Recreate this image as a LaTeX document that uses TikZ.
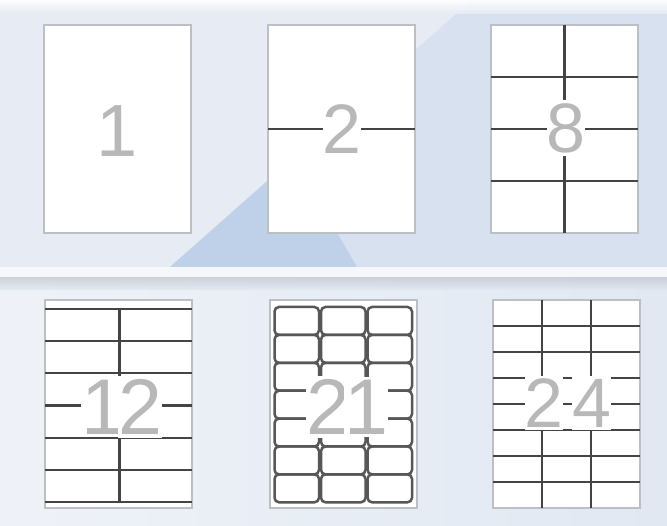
\documentclass[tikz,border=0pt]{standalone}
\usepackage{fontspec}
\setmainfont{Liberation Sans}
\usepackage{tikz}

\definecolor{bandlight}{HTML}{E6EBF4}
\definecolor{bandmid}{HTML}{D7E1EF}
\definecolor{banddark}{HTML}{BED1E9}
\definecolor{bandlow}{HTML}{E1E8F2}
\definecolor{rimgray}{HTML}{BCBFC4}
\definecolor{cutgray}{HTML}{444444}
\definecolor{digitgray}{HTML}{B8B8B8}

\begin{document}
\begin{tikzpicture}[x=1pt, y=-1pt,
		sheet/.style={fill=white, draw=rimgray, line width=1.1pt},
		cut/.style={draw=cutgray, line width=2.3pt},
		tag/.style={draw=cutgray!90!white, line width=2.5pt, rounded corners=4.5pt},
		count/.style={fill=white, text=digitgray, inner xsep=0pt, inner ysep=3pt},
		small/.style={font=\fontsize{70}{70}\selectfont},
		large/.style={font=\fontsize{79}{79}\selectfont}]
		\useasboundingbox (0,0) rectangle (667,526);
		% upper band
		\fill[bandlight] (0,0) rectangle (667,267);
		\fill[bandmid] (170,267) -- (472,0) -- (667,0) -- (667,267) -- cycle;
		\fill[banddark] (170,267) -- (282,168) -- (332,224) -- (357,267) -- cycle;
		\shade[top color=white, bottom color=bandlight, opacity=0.9] (0,0) rectangle (667,14);
		% separator and lower band
		\fill[white!60!bandlight] (0,267) rectangle (667,278);
		\shade[left color=bandlow!55!white, right color=bandlow] (0,278) rectangle (667,526);
		\shade[top color=black!14!bandlow, bottom color=bandlow, opacity=0.7] (0,278) rectangle (667,290);
		% sheets
		\foreach \x/\y in {44/25, 268/25, 491/25, 45/300, 270/300, 493/300} {
			\draw[sheet] (\x,\y) rectangle ++(147,208);
		}
		% 2 labels
		\draw[cut] (268,129) -- (415,129);
		% 8 labels
		\draw[cut] (564.5,25) -- (564.5,233);
		\foreach \y in {77,129,181} {
			\draw[cut] (491,\y) -- (638,\y);
		}
		% 12 labels
		\draw[cut] (119.5,309) -- (119.5,502);
		\foreach \k in {0,...,6} {
			\draw[cut] (45,{309+32.17*\k}) -- (192,{309+32.17*\k});
		}
		% 21 labels
		\foreach \i in {0,1,2} {
			\foreach \j in {0,...,6} {
				\draw[tag] ({274.5+46.5*\i},{307+27.9*\j}) rectangle ++(44.5,27.9);
			}
		}
		% 24 labels
		\foreach \x in {542,591} {
			\draw[cut] (\x,300) -- (\x,508);
		}
		\foreach \k in {1,...,7} {
			\draw[cut] (493,{300+26*\k}) -- (640,{300+26*\k});
		}
		% counts, one node per digit
		\node[count, font=\fontsize{74}{74}\selectfont] (one) at (117,131) {1};
		\node[count, small] (two) at (342,129) {2};
		\node[count, small] (eight) at (566,128) {8};
		\node[count, large] (twelveA) at (103,407) {1};
		\node[count, large] (twelveB) at (140,407) {2};
		\node[count, large] (twentyoneA) at (328,407) {2};
		\node[count, large] (twentyoneB) at (366,407) {1};
		\node[count, small] (twentyfourA) at (544,403) {2};
		\node[count, small] (twentyfourB) at (591.5,403) {4};
	\end{tikzpicture}
\end{document}
